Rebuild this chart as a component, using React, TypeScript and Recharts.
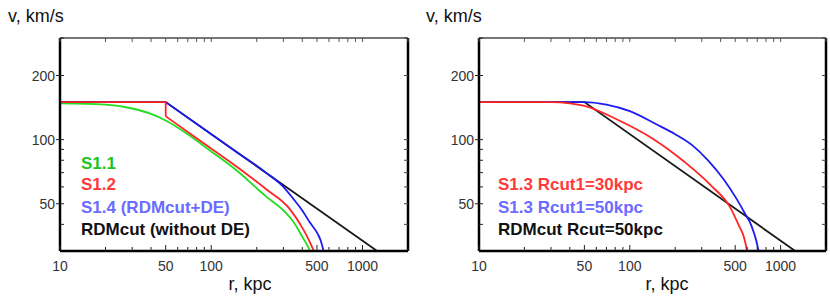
import React from "react";
import { LineChart, Line, XAxis, YAxis } from "recharts";

// shared axis ticks
const xTicks = [10, 20, 30, 40, 50, 60, 70, 80, 90, 100, 200, 300, 400, 500, 600, 700, 800, 900, 1000, 2000];
const xLabels = [10, 50, 100, 500, 1000];
const yTicks = [40, 50, 60, 70, 80, 90, 100, 200, 300];
const yLabels = [50, 100, 200];

// left panel
const rdmR = [10, 50, 1250];
const rdmV = [150, 150, 30];
const s11R = [10, 20, 30, 40, 50, 70, 100, 146, 231, 300, 350, 400, 430, 450];
const s11V = [148, 146, 140, 132, 123, 106, 88, 72, 54, 46.5, 41, 35, 32, 30];
// S1.2: flat, drop at 50 kpc, then smooth part
const s12FlatR = [10, 50, 50];
const s12FlatV = [150, 150, 128.7];
const s12R = [50, 84, 146, 231, 330, 404, 440, 477];
const s12V = [128.7, 99, 75, 58.5, 47.3, 38.1, 34, 30];
// S1.4: flat + straight along RDMcut, then bending down
const s14FlatR = [10, 50, 150];
const s14FlatV = [150, 150, 86.6];
const s14R = [150, 231, 300, 347, 400, 447, 507, 530, 553];
const s14V = [86.6, 69.8, 60, 53, 46.5, 41, 36, 33.5, 30];

// right panel
const cut30R = [10, 30, 40, 50, 83, 142, 231, 345, 462, 529, 570, 600];
const cut30V = [150, 150, 148, 144, 124, 101, 78.5, 61, 48.2, 39.5, 35, 30];
const cut50R = [10, 50, 70, 100, 150, 200, 260, 330, 420, 500, 580, 640, 690, 714];
const cut50V = [150, 150, 146, 136, 118, 106, 94, 80, 65, 54, 45, 39.5, 33.5, 30];

const pts = (r: number[], v: number[]) => r.map((x, i) => ({ r: x, v: v[i] }));

const FONT = "'Liberation Sans', Arial, sans-serif";
const X_DOMAIN: [number, number] = [10, 2000];
const Y_DOMAIN: [number, number] = [30, 300];

function BottomTick({ x, y, payload }: any) {
  const major = xLabels.includes(payload.value);
  return (
    <g>
      <line x1={x} x2={x} y1={y} y2={y - (major ? 6 : 4)} stroke="#222" strokeWidth={1} />
      {major && (
        <text x={x} y={y + 20} textAnchor="middle" fontSize={14} fill="#333" fontFamily={FONT}>
          {payload.value}
        </text>
      )}
    </g>
  );
}

function TopTick({ x, y }: any) {
  return <line x1={x} x2={x} y1={y} y2={y + 4} stroke="#555" strokeWidth={1} />;
}

function LeftTick({ x, y, payload }: any) {
  const major = yLabels.includes(payload.value);
  return (
    <g>
      <line x1={major ? x - 4 : x} x2={x + 4} y1={y} y2={y} stroke="#222" strokeWidth={1} />
      {major && (
        <text x={x - 5} y={y + 5} textAnchor="end" fontSize={14} fill="#333" fontFamily={FONT}>
          {payload.value}
        </text>
      )}
    </g>
  );
}

function RightTick({ x, y }: any) {
  return <line x1={x} x2={x - 4} y1={y} y2={y} stroke="#444" strokeWidth={1} />;
}

function Frame() {
  return [
    <XAxis
      key="xb"
      dataKey="r"
      type="number"
      scale="log"
      domain={X_DOMAIN}
      allowDataOverflow
      ticks={xTicks}
      interval={0}
      tick={<BottomTick />}
      tickLine={false}
      tickSize={0}
      tickMargin={0}
      height={30}
      axisLine={{ stroke: "#000", strokeWidth: 2.5 }}
    />,
    <XAxis
      key="xt"
      xAxisId="top"
      orientation="top"
      dataKey="r"
      type="number"
      scale="log"
      domain={X_DOMAIN}
      allowDataOverflow
      ticks={xTicks}
      interval={0}
      tick={<TopTick />}
      tickLine={false}
      tickSize={0}
      tickMargin={0}
      height={1}
      axisLine={{ stroke: "#777", strokeWidth: 2 }}
    />,
    <YAxis
      key="yl"
      type="number"
      scale="log"
      domain={Y_DOMAIN}
      allowDataOverflow
      ticks={yTicks}
      interval={0}
      tick={<LeftTick />}
      tickLine={false}
      tickSize={0}
      tickMargin={0}
      axisLine={{ stroke: "#000", strokeWidth: 2.5 }}
    />,
    <YAxis
      key="yr"
      yAxisId="right"
      orientation="right"
      type="number"
      scale="log"
      domain={Y_DOMAIN}
      allowDataOverflow
      ticks={yTicks}
      interval={0}
      tick={<RightTick />}
      tickLine={false}
      tickSize={0}
      tickMargin={0}
      width={1}
      axisLine={{ stroke: "#000", strokeWidth: 2.5 }}
    />,
    // invisible series tying the top and right axes to data so they get drawn
    <Line
      key="ghost"
      xAxisId="top"
      yAxisId="right"
      data={pts(rdmR, rdmV)}
      dataKey="v"
      stroke="none"
      dot={false}
      activeDot={false}
      isAnimationActive={false}
    />,
  ];
}

function Curve({
  data,
  color,
  kind = "monotone",
}: {
  data: { r: number; v: number }[];
  color: string;
  kind?: "monotone" | "linear";
}) {
  return (
    <Line
      data={data}
      dataKey="v"
      type={kind}
      stroke={color}
      strokeWidth={1.8}
      dot={false}
      activeDot={false}
      isAnimationActive={false}
    />
  );
}

const txt = (left: number, top: number, color: string, s: string) => (
  <div
    style={{
      position: "absolute",
      left,
      top,
      color,
      fontFamily: FONT,
      fontSize: 17,
      fontWeight: 700,
      lineHeight: "17px",
      whiteSpace: "nowrap",
    }}
  >
    {s}
  </div>
);

const axisTitle = (left: number, top: number, s: string, center = false) => (
  <div
    style={{
      position: "absolute",
      left,
      top,
      fontFamily: FONT,
      fontSize: 18,
      lineHeight: "18px",
      color: "#111",
      whiteSpace: "nowrap",
      transform: center ? "translateX(-50%)" : undefined,
    }}
  >
    {s}
  </div>
);

const RED = "#ff2424";
const BLUE = "#1c1cf2";

export default function App() {
  return (
    <div style={{ position: "absolute", left: 0, top: 0, width: 830, height: 299, background: "#fff" }}>
      <div style={{ position: "absolute", left: 0, top: 0 }}>
        <LineChart width={415} height={299} margin={{ top: 37, right: 6, bottom: 18, left: 0 }}>
          {Frame()}
          <Curve data={pts(rdmR, rdmV)} color="#1a1a1a" kind="linear" />
          <Curve data={pts(s11R, s11V)} color="#22dd22" />
          <Curve data={pts(s14FlatR, s14FlatV)} color={BLUE} kind="linear" />
          <Curve data={pts(s14R, s14V)} color={BLUE} />
          <Curve data={pts(s12FlatR, s12FlatV)} color={RED} kind="linear" />
          <Curve data={pts(s12R, s12V)} color={RED} />
        </LineChart>
      </div>
      <div style={{ position: "absolute", left: 415, top: 0 }}>
        <LineChart width={415} height={299} margin={{ top: 37, right: 3, bottom: 18, left: 4 }}>
          {Frame()}
          <Curve data={pts(rdmR, rdmV)} color="#1a1a1a" kind="linear" />
          <Curve data={pts(cut50R, cut50V)} color={BLUE} />
          <Curve data={pts(cut30R, cut30V)} color={RED} />
        </LineChart>
      </div>

      {axisTitle(8, 7, "v, km/s")}
      {axisTitle(426, 7, "v, km/s")}
      {axisTitle(250, 275, "r, kpc", true)}
      {axisTitle(667, 275, "r, kpc", true)}

      {txt(81, 155, "#1ec41e", "S1.1")}
      {txt(81, 176, "#ff3a3a", "S1.2")}
      {txt(81, 199, "#6b6bff", "S1.4 (RDMcut+DE)")}
      {txt(81, 221, "#111", "RDMcut (without DE)")}

      {txt(498, 176, "#ff3a3a", "S1.3 Rcut1=30kpc")}
      {txt(498, 199, "#6b6bff", "S1.3 Rcut1=50kpc")}
      {txt(498, 221, "#111", "RDMcut Rcut=50kpc")}
    </div>
  );
}
